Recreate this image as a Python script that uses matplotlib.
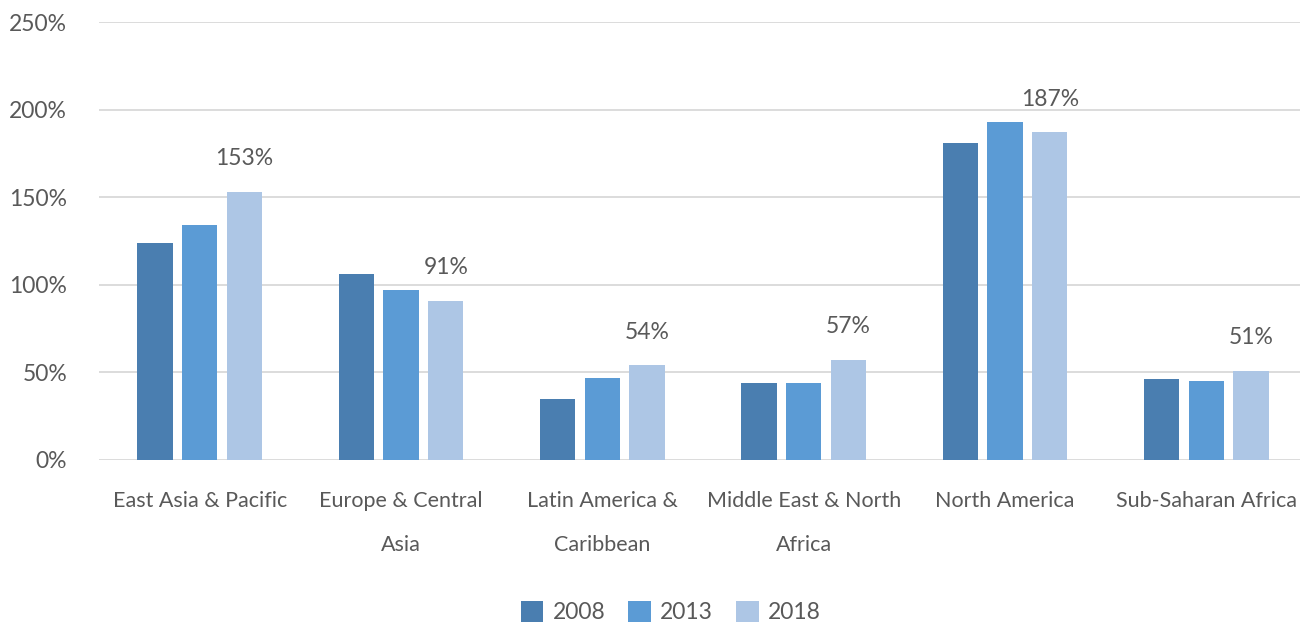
import numpy as np
from matplotlib import pyplot as plt
from matplotlib.ticker import PercentFormatter

plt.rcParams['font.family'] = ['Lato', 'DejaVu Sans']

regions = ['East Asia & Pacific', 'Europe & Central\nAsia', 'Latin America &\nCaribbean',
           'Middle East & North\nAfrica', 'North America', 'Sub-Saharan Africa']
years = ['2008', '2013', '2018']
v2008 = [124, 106, 35, 44, 181, 46]
v2013 = [134, 97, 47, 44, 193, 45]
v2018 = [153, 91, 54, 57, 187, 51]
colors = ['#4A7EB0', '#5B9BD5', '#ADC6E5']

text_col = '#595959'

fig = plt.figure(figsize=(13, 6.24), dpi=100)
ax = fig.add_axes([99 / 1300, 1 - 460 / 624, 1208 / 1300, 438 / 624])

x = np.arange(len(regions))
w = 0.175
off = 0.222
for i, (vals, c, yr) in enumerate(zip([v2008, v2013, v2018], colors, years)):
    bars = ax.bar(x + (i - 1) * off, vals, w, color=c, label=yr, zorder=3)
    if yr == '2018':
        for b, v in zip(bars, vals):
            ax.text(b.get_x() + b.get_width() / 2, v + 13, f'{v}%', ha='center',
                    va='bottom', fontsize=16.5, color=text_col)

ax.set_xlim(-0.5, 5.5)
ax.set_ylim(0, 250)
ax.set_yticks(range(0, 251, 50))
ax.yaxis.set_major_formatter(PercentFormatter(decimals=0))
ax.grid(axis='y', color='#D9D9D9', linewidth=1.3, zorder=0)
for s in ax.spines.values():
    s.set_visible(False)
ax.tick_params(axis='both', length=0, labelcolor=text_col)
ax.tick_params(axis='y', pad=23, labelsize=16.5)
ax.set_xticks(x)
ax.set_xticklabels(regions, linespacing=2.5, va='top', fontsize=15.5)
ax.tick_params(axis='x', pad=22)

fig.legend(loc='lower center', bbox_to_anchor=(0.516, -0.032), ncol=3, frameon=False,
           fontsize=16.5, labelcolor=text_col, handlelength=1.0, handleheight=1.0,
           columnspacing=1.0, handletextpad=0.4)

plt.savefig('out.png')
